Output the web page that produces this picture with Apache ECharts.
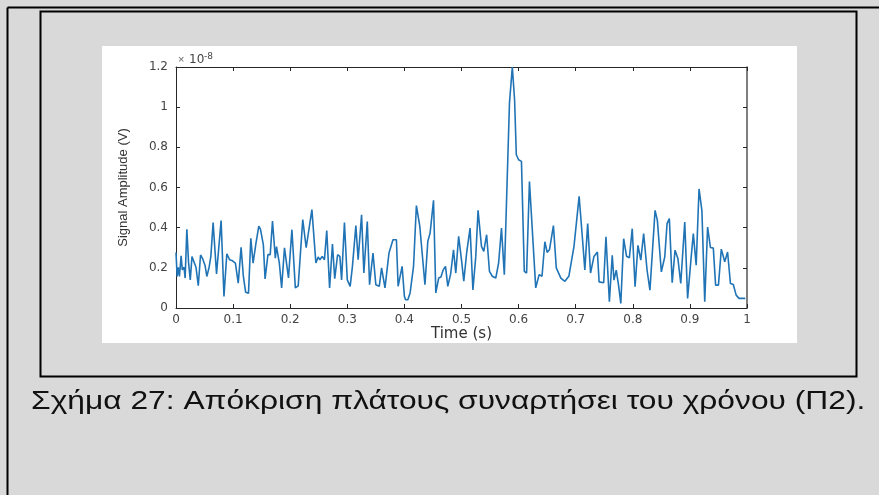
<!DOCTYPE html>
<html>
<head>
<meta charset="utf-8">
<script src="https://cdn.jsdelivr.net/npm/echarts@6/dist/echarts.min.js"></script>
<style>
  html, body { margin: 0; padding: 0; background: #d9d9d9; }
  #chart { width: 879px; height: 495px; }
</style>
</head>
<body>
<div id="chart"></div>
<script>
// Sample times (s)
const timeS = [
  0, .002, .004, .006, .009, .011, .014, .016, .019, .022, .025, .028, .031, .035, .039,
  .043, .047, .051, .054, .058, .061, .065, .071, .079, .084, .089, .094, .099, .104, .109,
  .114, .118, .122, .127, .131, .135, .140, .145, .148, .153, .156, .161, .165, .169, .174,
  .176, .181, .185, .190, .197, .203, .209, .214, .222, .228, .238,
  .245, .249, .252, .256, .260, .264, .269, .274, .278, .283, .287, .290,
  .295, .300, .305, .309, .315, .319, .325, .329, .335, .339, .345, .350, .356, .360, .366,
  .373, .380, .386, .389, .396, .400, .402, .406, .410, .416, .421, .427, .436, .441, .445,
  .451, .455, .460, .464, .468, .472, .476, .481, .486, .490, .495, .500, .504, .509, .515,
  .520, .525, .529, .535, .539, .544, .549, .554, .560, .565, .570, .575, .584, .589, .593,
  .596, .600, .605, .610, .614, .619, .630, .636, .641, .646, .650, .654, .661, .666, .674,
  .681, .688, .697, .706, .712, .716, .721, .726, .732, .738, .741, .749, .753, .759, .764,
  .767, .771, .775, .779, .784, .789, .794, .799, .804, .809, .814, .819, .825, .830, .839,
  .843, .850, .856, .860, .864, .869, .874, .879, .884, .891, .896, .902, .906, .911, .916,
  .921, .926, .931, .936, .941, .945, .950, .955, .961, .966, .971, .976, .981, .986, .992, .997
];

// Signal amplitude, in units of 1e-8 V
const amplitudeE8 = [
  .276, .157, .203, .157, .26, .19, .203, .149, .392, .226, .14, .256, .251, .203, .111,
  .264, .243, .21, .157, .203, .256, .425, .17, .435, .058, .27, .24, .235, .223, .124,
  .302, .157, .078, .074, .347, .223, .322, .408, .392, .314, .145, .266, .266, .433, .248,
  .306, .223, .10, .30, .15, .39, .10, .11, .44, .30, .49,
  .224, .254, .24, .257, .24, .386, .10, .318, .146, .265, .257, .14,
  .426, .14, .108, .207, .41, .24, .464, .174, .43, .116, .274, .116, .108, .20, .10,
  .274, .34, .34, .108, .207, .058, .041, .041, .075, .207, .51, .406, .116, .332, .373,
  .536, .075, .149, .154, .19, .207, .108, .17, .29, .174, .357, .24, .133, .274, .398,
  .09, .257, .486, .307, .282, .365, .182, .158, .149, .224, .398, .166, 1.02, 1.2, 1.036,
  .763, .738, .73, .182, .174, .63, .10, .166, .158, .33, .277, .29, .41, .2, .149,
  .133, .158, .307, .556, .34, .19, .42, .174, .257, .279, .13, .126, .354, .031, .263,
  .139, .188, .114, .023, .345, .258, .25, .395, .106, .312, .238, .37, .188, .089, .486,
  .436, .18, .255, .42, .445, .126, .288, .246, .122, .428, .048, .246, .37, .213, .593,
  .486, .031, .403, .301, .298, .114, .114, .293, .23, .279, .122, .117, .064, .048, .048, .048
];

// Axis ranges and texts
const xRange = [0, 1];
const xStep = 0.1;
const yRange = [0, 1.2];
const yStep = 0.2;
const xTitle = 'Time (s)';
const yTitle = 'Signal Amplitude (V)';
const exponentBase = '×';
const exponentTen = '10';
const exponentPower = '-8';
const caption = 'Σχήμα 27: Απόκριση πλάτους συναρτήσει του χρόνου (Π2).';

const seriesData = timeS.map((t, i) => [t, amplitudeE8[i]]);

const axisInk = '#262626';
const wideFont = 'DejaVu Sans, Verdana, sans-serif';
const plainFont = 'Liberation Sans, Arial, sans-serif';
const labelStyle = { color: '#444', fontFamily: wideFont, fontSize: 12 };

const chart = echarts.init(document.getElementById('chart'), null, { renderer: 'canvas' });

chart.setOption({
  backgroundColor: '#d9d9d9',
  animation: false,
  grid: { left: 176, right: 132, top: 67, bottom: 187, containLabel: false },
  graphic: [
    // outer frame (left and top edges)
    { type: 'line', z: -20, shape: { x1: 7.5, y1: 7.5, x2: 879, y2: 7.5 }, style: { stroke: '#000', lineWidth: 2 } },
    { type: 'line', z: -20, shape: { x1: 7.5, y1: 7.5, x2: 7.5, y2: 495 }, style: { stroke: '#000', lineWidth: 2 } },
    // figure box
    { type: 'rect', z: -20, shape: { x: 40.5, y: 11.5, width: 816, height: 365 }, style: { fill: 'none', stroke: '#000', lineWidth: 2 } },
    // white plot canvas
    { type: 'rect', z: -15, shape: { x: 102, y: 46, width: 695, height: 297 }, style: { fill: '#fff' } },
    // exponent marker
    { type: 'text', z: 10, x: 178, y: 65, style: { text: exponentBase, fontSize: 11, fill: '#666', fontFamily: plainFont, verticalAlign: 'bottom' } },
    { type: 'text', z: 10, x: 189, y: 66, style: { text: exponentTen, fontSize: 12, fill: '#444', fontFamily: wideFont, verticalAlign: 'bottom' } },
    { type: 'text', z: 10, x: 204, y: 61, style: { text: exponentPower, fontSize: 9, fill: '#444', fontFamily: wideFont, verticalAlign: 'bottom' } },
    // caption
    { type: 'text', z: 10, x: 31, y: 402, scaleX: 1.27, style: { text: caption, fontSize: 25, fill: '#111', fontFamily: plainFont, verticalAlign: 'middle' } }
  ],
  xAxis: [
    {
      type: 'value', min: xRange[0], max: xRange[1], interval: xStep, position: 'bottom',
      name: xTitle, nameLocation: 'middle', nameGap: 18,
      nameTextStyle: { color: '#333', fontFamily: wideFont, fontSize: 15 },
      axisLine: { show: true, onZero: false, lineStyle: { color: axisInk, width: 1 } },
      axisTick: { show: true, inside: true, length: 4, lineStyle: { color: axisInk } },
      axisLabel: Object.assign({ margin: 6 }, labelStyle),
      splitLine: { show: false }
    },
    {
      type: 'value', min: xRange[0], max: xRange[1], interval: xStep, position: 'top',
      axisLine: { show: true, onZero: false, lineStyle: { color: axisInk, width: 1 } },
      axisTick: { show: true, inside: true, length: 4, lineStyle: { color: axisInk } },
      axisLabel: { show: false },
      splitLine: { show: false }
    }
  ],
  yAxis: [
    {
      type: 'value', min: yRange[0], max: yRange[1], interval: yStep, position: 'left',
      name: yTitle, nameLocation: 'middle', nameGap: 46, nameRotate: 90,
      nameTextStyle: { color: '#333', fontFamily: plainFont, fontSize: 13 },
      axisLine: { show: true, onZero: false, lineStyle: { color: axisInk, width: 1 } },
      axisTick: { show: true, inside: true, length: 4, lineStyle: { color: axisInk } },
      axisLabel: Object.assign({ margin: 8 }, labelStyle),
      splitLine: { show: false }
    },
    {
      type: 'value', min: yRange[0], max: yRange[1], interval: yStep, position: 'right',
      axisLine: { show: true, onZero: false, lineStyle: { color: '#555', width: 1.5 } },
      axisTick: { show: true, inside: true, length: 4, lineStyle: { color: axisInk } },
      axisLabel: { show: false },
      splitLine: { show: false }
    }
  ],
  series: [
    {
      type: 'line',
      data: seriesData,
      xAxisIndex: 0,
      yAxisIndex: 0,
      showSymbol: false,
      clip: true,
      lineStyle: { color: '#2074b6', width: 1.6 },
      z: 3
    }
  ]
});
</script>
</body>
</html>
